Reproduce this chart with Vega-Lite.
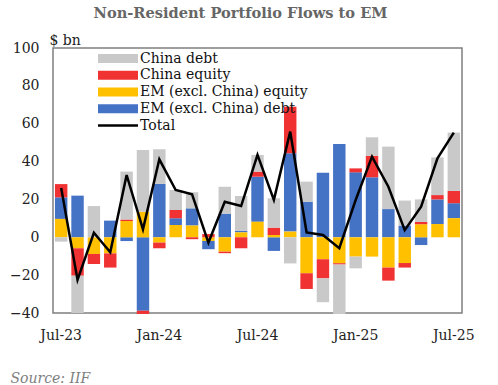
{
  "$schema": "https://vega.github.io/schema/vega-lite/v6.json",
  "width": 409,
  "height": 265,
  "autosize": {"type": "none"},
  "padding": {"left": 53, "top": 48, "right": 36, "bottom": 72},
  "background": "white",
  "title": {
    "text": "Non-Resident  Portfolio Flows to EM",
    "anchor": "middle",
    "frame": "group",
    "dx": -17,
    "offset": 12,
    "font": "DejaVu Serif",
    "fontSize": 14.6,
    "fontWeight": "bold",
    "color": "#666666"
  },
  "config": {
    "view": {"stroke": "#7f7f7f", "strokeWidth": 1.5},
    "font": "DejaVu Serif",
    "axis": {"labelFont": "DejaVu Serif", "titleFont": "DejaVu Serif", "labelColor": "#222222", "titleColor": "#222222"}
  },
  "datasets": {
    "bars": [
      {"month": "Jul-23", "series": "EM (excl. China) debt", "value": 11.4},
      {"month": "Jul-23", "series": "EM (excl. China) equity", "value": 9.7},
      {"month": "Jul-23", "series": "China equity", "value": 7.0},
      {"month": "Jul-23", "series": "China debt", "value": -2.3},
      {"month": "Aug-23", "series": "EM (excl. China) debt", "value": 22.0},
      {"month": "Aug-23", "series": "EM (excl. China) equity", "value": -5.8},
      {"month": "Aug-23", "series": "China equity", "value": -14.5},
      {"month": "Aug-23", "series": "China debt", "value": -19.7},
      {"month": "Sep-23", "series": "EM (excl. China) equity", "value": -8.8},
      {"month": "Sep-23", "series": "China equity", "value": -5.3},
      {"month": "Sep-23", "series": "China debt", "value": 16.5},
      {"month": "Oct-23", "series": "EM (excl. China) debt", "value": 8.8},
      {"month": "Oct-23", "series": "EM (excl. China) equity", "value": -8.5},
      {"month": "Oct-23", "series": "China equity", "value": -7.5},
      {"month": "Nov-23", "series": "EM (excl. China) debt", "value": -2.0},
      {"month": "Nov-23", "series": "EM (excl. China) equity", "value": 8.6},
      {"month": "Nov-23", "series": "China equity", "value": 0.8},
      {"month": "Nov-23", "series": "China debt", "value": 25.3},
      {"month": "Dec-23", "series": "EM (excl. China) debt", "value": -38.8},
      {"month": "Dec-23", "series": "EM (excl. China) equity", "value": 13.5},
      {"month": "Dec-23", "series": "China equity", "value": -1.7},
      {"month": "Dec-23", "series": "China debt", "value": 32.6},
      {"month": "Jan-24", "series": "EM (excl. China) debt", "value": 28.2},
      {"month": "Jan-24", "series": "EM (excl. China) equity", "value": -2.8},
      {"month": "Jan-24", "series": "China equity", "value": -3.0},
      {"month": "Jan-24", "series": "China debt", "value": 18.3},
      {"month": "Feb-24", "series": "EM (excl. China) debt", "value": 3.5},
      {"month": "Feb-24", "series": "EM (excl. China) equity", "value": 6.5},
      {"month": "Feb-24", "series": "China equity", "value": 4.4},
      {"month": "Feb-24", "series": "China debt", "value": 10.6},
      {"month": "Mar-24", "series": "EM (excl. China) debt", "value": 9.1},
      {"month": "Mar-24", "series": "EM (excl. China) equity", "value": 6.2},
      {"month": "Mar-24", "series": "China equity", "value": -1.0},
      {"month": "Mar-24", "series": "China debt", "value": 8.5},
      {"month": "Apr-24", "series": "EM (excl. China) debt", "value": -4.4},
      {"month": "Apr-24", "series": "EM (excl. China) equity", "value": -1.9},
      {"month": "Apr-24", "series": "China equity", "value": 1.7},
      {"month": "May-24", "series": "EM (excl. China) debt", "value": 12.5},
      {"month": "May-24", "series": "EM (excl. China) equity", "value": -7.6},
      {"month": "May-24", "series": "China equity", "value": -0.8},
      {"month": "May-24", "series": "China debt", "value": 14.2},
      {"month": "Jun-24", "series": "EM (excl. China) debt", "value": 0.9},
      {"month": "Jun-24", "series": "EM (excl. China) equity", "value": 2.6},
      {"month": "Jun-24", "series": "China equity", "value": -5.8},
      {"month": "Jun-24", "series": "China debt", "value": 18.3},
      {"month": "Jul-24", "series": "EM (excl. China) debt", "value": 23.8},
      {"month": "Jul-24", "series": "EM (excl. China) equity", "value": 8.2},
      {"month": "Jul-24", "series": "China equity", "value": 2.7},
      {"month": "Jul-24", "series": "China debt", "value": 8.8},
      {"month": "Aug-24", "series": "EM (excl. China) debt", "value": -7.2},
      {"month": "Aug-24", "series": "EM (excl. China) equity", "value": 1.2},
      {"month": "Aug-24", "series": "China equity", "value": 3.9},
      {"month": "Aug-24", "series": "China debt", "value": 15.5},
      {"month": "Sep-24", "series": "EM (excl. China) debt", "value": 41.4},
      {"month": "Sep-24", "series": "EM (excl. China) equity", "value": 3.0},
      {"month": "Sep-24", "series": "China equity", "value": 24.6},
      {"month": "Sep-24", "series": "China debt", "value": -13.8},
      {"month": "Oct-24", "series": "EM (excl. China) debt", "value": 18.8},
      {"month": "Oct-24", "series": "EM (excl. China) equity", "value": -19.0},
      {"month": "Oct-24", "series": "China equity", "value": -8.3},
      {"month": "Oct-24", "series": "China debt", "value": 10.6},
      {"month": "Nov-24", "series": "EM (excl. China) debt", "value": 34.1},
      {"month": "Nov-24", "series": "EM (excl. China) equity", "value": -11.6},
      {"month": "Nov-24", "series": "China equity", "value": -10.1},
      {"month": "Nov-24", "series": "China debt", "value": -12.6},
      {"month": "Dec-24", "series": "EM (excl. China) debt", "value": 49.3},
      {"month": "Dec-24", "series": "EM (excl. China) equity", "value": -13.7},
      {"month": "Dec-24", "series": "China equity", "value": -0.7},
      {"month": "Dec-24", "series": "China debt", "value": -26.1},
      {"month": "Jan-25", "series": "EM (excl. China) debt", "value": 34.3},
      {"month": "Jan-25", "series": "EM (excl. China) equity", "value": -10.2},
      {"month": "Jan-25", "series": "China equity", "value": 2.1},
      {"month": "Jan-25", "series": "China debt", "value": -6.2},
      {"month": "Feb-25", "series": "EM (excl. China) debt", "value": 31.7},
      {"month": "Feb-25", "series": "EM (excl. China) equity", "value": -10.2},
      {"month": "Feb-25", "series": "China equity", "value": 11.4},
      {"month": "Feb-25", "series": "China debt", "value": 9.7},
      {"month": "Mar-25", "series": "EM (excl. China) debt", "value": 14.9},
      {"month": "Mar-25", "series": "EM (excl. China) equity", "value": -16.0},
      {"month": "Mar-25", "series": "China equity", "value": -6.9},
      {"month": "Mar-25", "series": "China debt", "value": 33.0},
      {"month": "Apr-25", "series": "EM (excl. China) debt", "value": 6.2},
      {"month": "Apr-25", "series": "EM (excl. China) equity", "value": -13.6},
      {"month": "Apr-25", "series": "China equity", "value": -2.4},
      {"month": "Apr-25", "series": "China debt", "value": 13.2},
      {"month": "May-25", "series": "EM (excl. China) debt", "value": -4.1},
      {"month": "May-25", "series": "EM (excl. China) equity", "value": 6.9},
      {"month": "May-25", "series": "China equity", "value": 1.2},
      {"month": "May-25", "series": "China debt", "value": 11.9},
      {"month": "Jun-25", "series": "EM (excl. China) debt", "value": 13.0},
      {"month": "Jun-25", "series": "EM (excl. China) equity", "value": 7.0},
      {"month": "Jun-25", "series": "China equity", "value": 2.3},
      {"month": "Jun-25", "series": "China debt", "value": 19.9},
      {"month": "Jul-25", "series": "EM (excl. China) debt", "value": 7.9},
      {"month": "Jul-25", "series": "EM (excl. China) equity", "value": 10.1},
      {"month": "Jul-25", "series": "China equity", "value": 6.5},
      {"month": "Jul-25", "series": "China debt", "value": 30.8}
    ],
    "total": [
      {"month": "Jul-23", "series": "Total", "value": 26.0},
      {"month": "Aug-23", "series": "Total", "value": -22.5},
      {"month": "Sep-23", "series": "Total", "value": 2.4},
      {"month": "Oct-23", "series": "Total", "value": -7.9},
      {"month": "Nov-23", "series": "Total", "value": 32.9},
      {"month": "Dec-23", "series": "Total", "value": 4.2},
      {"month": "Jan-24", "series": "Total", "value": 41.2},
      {"month": "Feb-24", "series": "Total", "value": 25.0},
      {"month": "Mar-24", "series": "Total", "value": 22.7},
      {"month": "Apr-24", "series": "Total", "value": -2.8},
      {"month": "May-24", "series": "Total", "value": 18.8},
      {"month": "Jun-24", "series": "Total", "value": 16.5},
      {"month": "Jul-24", "series": "Total", "value": 43.5},
      {"month": "Aug-24", "series": "Total", "value": 19.7},
      {"month": "Sep-24", "series": "Total", "value": 55.8},
      {"month": "Oct-24", "series": "Total", "value": 2.6},
      {"month": "Nov-24", "series": "Total", "value": 1.2},
      {"month": "Dec-24", "series": "Total", "value": -5.8},
      {"month": "Jan-25", "series": "Total", "value": 19.7},
      {"month": "Feb-25", "series": "Total", "value": 42.6},
      {"month": "Mar-25", "series": "Total", "value": 26.7},
      {"month": "Apr-25", "series": "Total", "value": 3.8},
      {"month": "May-25", "series": "Total", "value": 16.2},
      {"month": "Jun-25", "series": "Total", "value": 41.7},
      {"month": "Jul-25", "series": "Total", "value": 55.3}
    ]
  },
  "encoding": {
    "x": {
      "field": "month",
      "type": "ordinal",
      "sort": null,
      "scale": {"paddingInner": 0.24, "paddingOuter": 0.12},
      "axis": {
        "values": ["Jul-23", "Jan-24", "Jul-24", "Jan-25", "Jul-25"],
        "labelAngle": 0,
        "ticks": false,
        "domain": false,
        "labelPadding": 15,
        "labelFontSize": 14,
        "title": "Source: IIF",
        "titleFontStyle": "italic",
        "titleFontWeight": "normal",
        "titleFontSize": 14,
        "titleColor": "#7f7f7f",
        "titleAnchor": "start",
        "titleAlign": "left",
        "titleBaseline": "alphabetic",
        "titleX": -43,
        "titleY": 69
      }
    }
  },
  "layer": [
    {
      "data": {"name": "bars"},
      "mark": {"type": "bar"},
      "encoding": {
        "y": {
          "field": "value",
          "type": "quantitative",
          "stack": "zero",
          "scale": {"domain": [-40, 100], "nice": false},
          "axis": {
            "values": [-40, -20, 0, 20, 40, 60, 80, 100],
            "grid": false,
            "ticks": false,
            "domain": false,
            "labelOverlap": false,
            "labelPadding": 14,
            "labelFontSize": 14,
            "title": "$ bn",
            "titleAngle": 0,
            "titleAlign": "left",
            "titleBaseline": "alphabetic",
            "titleFontWeight": "normal",
            "titleFontSize": 14,
            "titleX": -4,
            "titleY": -4
          }
        },
        "color": {
          "field": "series",
          "type": "nominal",
          "sort": ["EM (excl. China) debt", "EM (excl. China) equity", "China equity", "China debt", "Total"],
          "scale": {
            "domain": ["China debt", "China equity", "EM (excl. China) equity", "EM (excl. China) debt", "Total"],
            "range": ["#c9c9c9", "#f03232", "#ffc000", "#4472c4", "#000000"]
          },
          "legend": {
            "title": null,
            "orient": "none",
            "legendX": 58,
            "legendY": 3.5,
            "padding": 0,
            "rowPadding": 2.75,
            "labelFont": "DejaVu Serif",
            "labelFontSize": 14,
            "labelLimit": 400,
            "labelColor": "#111111",
            "labelOffset": 15,
            "symbolType": "M-4,-0.9L4,-0.9L4,0.9L-4,0.9Z",
            "symbolSize": 100,
            "symbolStrokeWidth": 0,
            "encode": {
              "symbols": {
                "update": {
                  "shape": {"signal": "datum.value === 'Total' ? 'M-4,-0.25L4,-0.25L4,0.25L-4,0.25Z' : 'M-4,-0.9L4,-0.9L4,0.9L-4,0.9Z'"},
                  "fill": {"scale": "color", "field": "value"},
                  "stroke": {"value": "transparent"},
                  "opacity": {"value": 1},
                  "fillOpacity": {"value": 1}
                }
              }
            }
          }
        }
      }
    },
    {
      "mark": {"type": "rule", "color": "#000000", "strokeWidth": 1},
      "encoding": {
        "y": {
          "datum": 0,
          "type": "quantitative",
          "axis": {
            "values": [-40, -20, 0, 20, 40, 60, 80, 100],
            "grid": false,
            "ticks": false,
            "domain": false,
            "labelOverlap": false,
            "labelPadding": 14,
            "labelFontSize": 14,
            "title": "$ bn",
            "titleAngle": 0,
            "titleAlign": "left",
            "titleBaseline": "alphabetic",
            "titleFontWeight": "normal",
            "titleFontSize": 14,
            "titleX": -4,
            "titleY": -4
          }
        }
      }
    },
    {
      "data": {"name": "total"},
      "mark": {"type": "line", "strokeWidth": 2.5, "strokeJoin": "miter"},
      "encoding": {
        "y": {
          "field": "value",
          "type": "quantitative",
          "axis": {
            "values": [-40, -20, 0, 20, 40, 60, 80, 100],
            "grid": false,
            "ticks": false,
            "domain": false,
            "labelOverlap": false,
            "labelPadding": 14,
            "labelFontSize": 14,
            "title": "$ bn",
            "titleAngle": 0,
            "titleAlign": "left",
            "titleBaseline": "alphabetic",
            "titleFontWeight": "normal",
            "titleFontSize": 14,
            "titleX": -4,
            "titleY": -4
          }
        },
        "color": {"field": "series", "type": "nominal"}
      }
    }
  ]
}
